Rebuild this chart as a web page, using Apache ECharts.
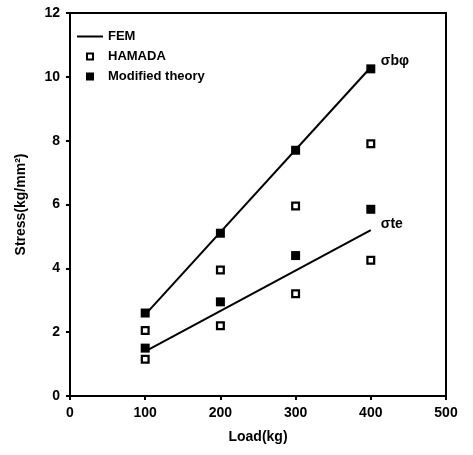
<!DOCTYPE html>
<html><head><meta charset="utf-8">
<script src="https://cdn.jsdelivr.net/npm/echarts@6/dist/echarts.min.js"></script>
<style>html,body{margin:0;padding:0;background:#fff}#c{width:473px;height:455px}</style>
</head><body><div id="c"></div>
<script>
const loads = [100, 200, 300, 400];
const hamadaUpper = [2.05, 3.95, 5.95, 7.9];
const hamadaLower = [1.15, 2.2, 3.2, 4.25];
const modifiedUpper = [2.6, 5.1, 7.7, 10.25];
const modifiedLower = [1.5, 2.95, 4.4, 5.85];
const femLoads = [100, 400];
const femUpper = [2.55, 10.3];
const femLower = [1.4, 5.2];
const curveLabels = ['σbφ', 'σte'];
const curveLabelValues = [10.3, 5.2];
const xTicks = [0, 100, 200, 300, 400, 500];
const yTicks = [0, 2, 4, 6, 8, 10, 12];

const pairs = (xs, ys) => xs.map((x, i) => [x, ys[i]]);
const FONT = 'Liberation Sans';
const openSq = 'path://M0,0H10V10H0Z M2.5,2.5V7.5H7.5V2.5Z';
const fillSq = 'path://M0,0H10V10H0Z';

const chart = echarts.init(document.getElementById('c'));
chart.setOption({
  animation: false,
  backgroundColor: '#fff',
  grid: { left: 70, right: 27, top: 13, bottom: 59, show: true, borderColor: '#000', borderWidth: 2 },
  legend: {
    data: [
      { name: 'FEM', icon: 'path://M0,0H26V2H0Z' },
      { name: 'HAMADA', icon: openSq },
      { name: 'Modified theory', icon: fillSq }
    ],
    orient: 'vertical', left: 72, top: 24,
    itemWidth: 26, itemHeight: 8, itemGap: 5,
    itemStyle: { color: '#000' },
    textStyle: { fontFamily: FONT, fontWeight: 'bold', fontSize: 13, color: '#000', lineHeight: 15 }
  },
  xAxis: {
    type: 'value', min: 0, max: 500, interval: 100,
    name: 'Load(kg)', nameLocation: 'middle', nameGap: 34,
    nameTextStyle: { fontFamily: FONT, fontWeight: 'bold', fontSize: 14, color: '#000' },
    axisLine: { lineStyle: { color: '#000', width: 2 } },
    axisTick: { show: true, inside: false, length: 4, lineStyle: { color: '#000', width: 2 } },
    axisLabel: { fontFamily: FONT, fontWeight: 'bold', fontSize: 14, color: '#000', margin: 10,
      formatter: v => xTicks.includes(v) ? String(v) : '' },
    splitLine: { show: false }
  },
  yAxis: {
    type: 'value', min: 0, max: 12, interval: 2,
    name: 'Stress(kg/mm²)', nameLocation: 'middle', nameGap: 42,
    nameTextStyle: { fontFamily: FONT, fontWeight: 'bold', fontSize: 14, color: '#000' },
    axisLine: { show: true, lineStyle: { color: '#000', width: 2 } },
    axisTick: { show: true, inside: false, length: 4, lineStyle: { color: '#000', width: 2 } },
    axisLabel: { fontFamily: FONT, fontWeight: 'bold', fontSize: 14, color: '#000', margin: 10,
      formatter: v => yTicks.includes(v) ? String(v) : '' },
    splitLine: { show: false }
  },
  series: [
    { name: 'FEM', type: 'line', symbol: 'none', data: pairs(femLoads, femUpper),
      lineStyle: { color: '#000', width: 2 }, itemStyle: { color: '#000' } },
    { name: 'FEM', type: 'line', symbol: 'none', data: pairs(femLoads, femLower),
      lineStyle: { color: '#000', width: 2 }, itemStyle: { color: '#000' } },
    { name: 'HAMADA', type: 'scatter', symbol: openSq, symbolSize: 9,
      data: pairs(loads, hamadaUpper).concat(pairs(loads, hamadaLower)),
      itemStyle: { color: '#000', opacity: 1 } },
    { name: 'Modified theory', type: 'scatter', symbol: fillSq, symbolSize: 9,
      data: pairs(loads, modifiedUpper).concat(pairs(loads, modifiedLower)),
      itemStyle: { color: '#000', opacity: 1 } },
    { name: 'curveLabels', type: 'scatter', symbolSize: 0, silent: true,
      itemStyle: { color: '#000', opacity: 1 },
      data: curveLabels.map((t, i) => ({ value: [400, curveLabelValues[i]], name: t })),
      label: { show: true, position: 'right', distance: 10, offset: [0, -6],
        formatter: p => p.name, opacity: 1,
        fontFamily: FONT, fontWeight: 'bold', fontSize: 14, color: '#000' } }
  ]
});
</script></body></html>
